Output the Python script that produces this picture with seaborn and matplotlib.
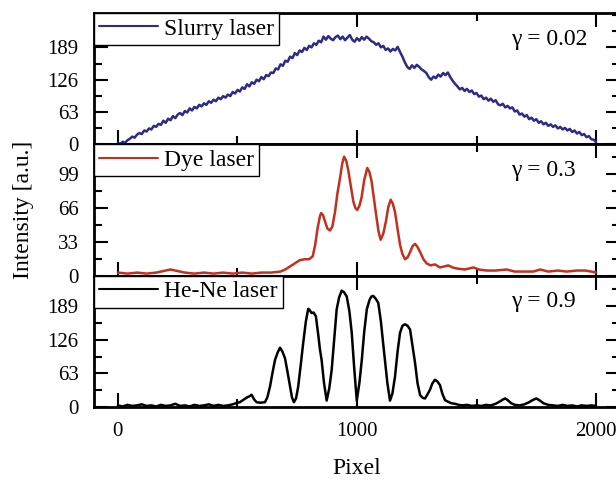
import numpy as np
import pandas as pd
import matplotlib
matplotlib.use("Agg")
import matplotlib.pyplot as plt
from matplotlib.ticker import MultipleLocator, FixedLocator
import seaborn as sns

# ---- Slurry laser: detector pixel 0..2000, sampled every 10 pixels ----
slurry_px = np.arange(0, 2001, 10)
slurry_int = [
    3, 1, 5, 3, 8, 11, 15, 13, 19, 22,
    20, 27, 25, 31, 29, 36, 34, 40, 38, 46,
    42, 50, 47, 55, 51, 58, 61, 57, 65, 62,
    70, 66, 73, 70, 77, 74, 80, 77, 84, 81,
    87, 84, 91, 88, 94, 91, 97, 94, 102, 99,
    106, 103, 111, 108, 117, 113, 121, 118, 126, 123,
    131, 127, 135, 133, 140, 139, 148, 146, 156, 153,
    163, 161, 171, 168, 178, 174, 183, 180, 188, 184,
    192, 189, 197, 194, 202, 199, 210, 204, 211, 206,
    203, 209, 212, 205, 210, 203, 208, 213, 204, 200,
    207, 202, 209, 204, 210, 206, 201, 199, 194, 197,
    189, 192, 184, 187, 181, 186, 183, 190, 180, 171,
    160, 151, 147, 154, 149, 155, 151, 146, 143, 139,
    131, 126, 132, 129, 136, 132, 139, 135, 140, 131,
    124, 118, 113, 107, 110, 104, 108, 102, 105, 98,
    100, 93, 95, 88, 91, 85, 89, 83, 86, 78,
    76, 79, 72, 75, 70, 72, 64, 66, 58, 60,
    54, 57, 49, 52, 46, 49, 42, 45, 39, 42,
    36, 39, 34, 37, 31, 34, 29, 32, 27, 30,
    24, 27, 21, 24, 18, 20, 14, 16, 10, 9,
    4,
]

# ---- Dye laser ----
dye_px = [
    0, 40, 80, 120, 160, 200, 220, 240, 280, 320, 360, 400, 440, 480, 520,
    560, 600, 640, 680, 700, 720, 740, 760, 780, 800, 815, 825, 835, 845,
    850, 858, 866, 876, 887, 897, 908, 918, 929, 938, 946, 955, 964, 975,
    985, 993, 1001, 1010, 1019, 1030, 1043, 1052, 1061, 1072, 1082, 1090,
    1099, 1110, 1121, 1131, 1141, 1150, 1159, 1170, 1180, 1190, 1201, 1212,
    1222, 1233, 1243, 1253, 1264, 1278, 1291, 1308, 1326, 1347, 1365, 1382,
    1400, 1417, 1450, 1487, 1510, 1542, 1580, 1626, 1660, 1700, 1738, 1766,
    1800, 1840, 1877, 1920, 1954, 1980, 2000,
]
dye_int = [
    3, 2, 3, 2, 3, 5, 6, 5, 3, 2, 3, 2, 3, 2, 3,
    2, 3, 3, 4, 6, 9, 12, 15, 16, 16, 19, 30, 46, 58,
    61, 59, 53, 46, 44, 48, 62, 80, 95, 109, 116, 112, 102, 86,
    72, 66, 64, 68, 76, 93, 105, 101, 92, 73, 56, 43,
    35, 41, 53, 67, 74, 70, 62, 45, 30, 21, 16, 18,
    23, 29, 31, 28, 23, 16, 12, 10, 11, 8, 9, 10,
    8, 7, 6, 8, 6, 5, 5, 6, 4, 4, 4, 6,
    4, 5, 4, 5, 5, 4, 3,
]

# ---- He-Ne laser ----
hene_px = [
    0, 20, 40, 60, 80, 100, 120, 140, 160, 180, 200, 220, 240, 260, 280,
    300, 320, 340, 360, 380, 400, 420, 440, 460, 480, 500, 510, 520, 530,
    540, 550, 559, 570, 580, 595, 615, 625, 636, 647, 657, 668, 678, 688,
    699, 710, 720, 728, 736, 745, 754, 765, 775, 786, 796, 803, 810, 818,
    828, 838, 845, 852, 862, 873, 884, 894, 905, 915, 925, 936, 946, 957,
    968, 978, 988, 999, 1010, 1020, 1030, 1041, 1052, 1060, 1068, 1078,
    1089, 1100, 1108, 1117, 1127, 1138, 1148, 1159, 1170, 1180, 1190, 1201,
    1212, 1222, 1232, 1243, 1253, 1264, 1275, 1285, 1295, 1305, 1315, 1326,
    1336, 1347, 1357, 1368, 1380, 1395, 1410, 1425, 1440, 1460, 1480, 1500,
    1520, 1540, 1560, 1580, 1600, 1610, 1620, 1630, 1645, 1660, 1680, 1700,
    1720, 1735, 1750, 1765, 1780, 1800, 1820, 1840, 1860, 1880, 1900, 1920,
    1940, 1960, 1980, 2000,
]
hene_int = [
    3, 1, 4, 2, 3, 5, 2, 3, 1, 4, 2, 3, 6, 2, 3,
    1, 4, 2, 3, 5, 2, 4, 2, 3, 5, 8, 9, 12, 15,
    18, 20, 23, 14, 9, 8, 9, 18, 38, 65, 88, 102, 111, 104,
    91, 64, 38, 18, 9, 16, 38, 80, 120, 160, 184, 181, 176, 177,
    170, 135, 108, 88, 45, 12, 35, 69, 130, 183, 205, 218, 215, 207,
    180, 139, 75, 12, 45, 88, 140, 183, 200, 207, 208, 203,
    195, 160, 125, 88, 45, 12, 25, 57, 105, 139, 152, 155,
    152, 145, 115, 82, 45, 22, 17, 16, 24, 32, 44, 51,
    48, 41, 25, 13, 10, 7, 6, 4, 3, 4, 2, 3,
    2, 4, 3, 6, 11, 14, 16, 13, 7, 4, 3, 5,
    9, 13, 16, 12, 7, 4, 3, 2, 4, 2, 3, 1,
    3, 2, 3, 2,
]

panel_names = ["Slurry laser", "Dye laser", "He-Ne laser"]
panel_gamma = ["γ = 0.02", "γ = 0.3", "γ = 0.9"]
panel_colors = ["#2d2b88", "#c23020", "#000000"]
panel_yticks = [[0, 63, 126, 189], [0, 33, 66, 99], [0, 63, 126, 189]]
panel_ylim = [256, 128, 246]
x_ticks = [0, 1000, 2000]

sns.set_theme(style="ticks", rc={
    "axes.edgecolor": "black",
    "axes.labelcolor": "black",
    "xtick.color": "black",
    "ytick.color": "black",
    "text.color": "black",
})
plt.rcParams["font.family"] = ["Liberation Serif", "DejaVu Serif"]

fig, axes = plt.subplots(3, 1, sharex=True, figsize=(6.16, 4.84), dpi=100)
fig.subplots_adjust(left=94 / 616, right=620 / 616, top=1 - 13 / 484,
                    bottom=1 - 407 / 484, hspace=0)

series = [
    pd.DataFrame({"Pixel": slurry_px, "Intensity": slurry_int}),
    pd.DataFrame({"Pixel": dye_px, "Intensity": dye_int}),
    pd.DataFrame({"Pixel": hene_px, "Intensity": hene_int}),
]

for i, ax in enumerate(axes):
    sns.lineplot(data=series[i], x="Pixel", y="Intensity", ax=ax,
                 color=panel_colors[i], linewidth=1.8, label=panel_names[i],
                 errorbar=None, estimator=None)
    ax.set_xlim(-100, 2100)
    ax.set_ylim(0, panel_ylim[i])
    ax.xaxis.set_major_locator(FixedLocator(x_ticks))
    ax.xaxis.set_minor_locator(MultipleLocator(500))
    ax.yaxis.set_major_locator(FixedLocator(panel_yticks[i]))
    step = panel_yticks[i][1] / 2
    ax.yaxis.set_minor_locator(MultipleLocator(step))
    ax.tick_params(which="both", direction="in", top=True, right=True,
                   width=1.5, pad=11, labelsize=15)
    ax.tick_params(which="major", length=10)
    ax.tick_params(which="minor", length=6)
    for sp in ax.spines.values():
        sp.set_linewidth(2.0)
        sp.set_color("black")
    ax.set_xlabel("")
    ax.set_ylabel("")
    leg = ax.legend(loc="upper left", bbox_to_anchor=(0, 1), borderaxespad=0,
                    fontsize=17, handlelength=2.5, handletextpad=0.25,
                    borderpad=0.22, fancybox=False, framealpha=1,
                    edgecolor="black")
    leg.get_frame().set_linewidth(1.0)
    for h in leg.get_lines():
        h.set_linewidth(1.5)
    ax.text(0.793, 0.80, panel_gamma[i], transform=ax.transAxes,
            ha="left", va="center", fontsize=17)

axes[2].set_xlabel("Pixel", fontsize=17, labelpad=12)
axes[1].set_ylabel("Intensity [a.u.]", fontsize=17, labelpad=17)

fig.savefig("out.png", dpi=100)
